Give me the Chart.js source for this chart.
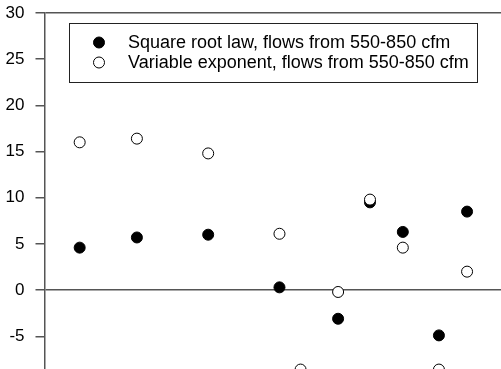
<!DOCTYPE html>
<html>
<head>
<meta charset="utf-8">
<script src="https://cdn.jsdelivr.net/npm/chart.js@4.4.1/dist/chart.umd.min.js"></script>
<style>
  html, body { margin: 0; padding: 0; background: #fff; overflow: hidden; }
  #chart { display: block; }
</style>
</head>
<body>
<canvas id="chart" width="520" height="389"></canvas>
<script>
// test positions (arbitrary x units) and percent differences
const sqrtX = [7.5, 19.7, 34.9, 50.1, 62.6, 69.4, 76.4, 84.1, 90.1];
const sqrtY = [4.6, 5.7, 6.0, 0.3, -3.1, 9.5, 6.3, -4.9, 8.5];
const varX = [7.5, 19.7, 34.9, 50.1, 54.6, 62.6, 69.4, 76.4, 84.1, 90.1];
const varY = [16.0, 16.4, 14.8, 6.1, -8.6, -0.2, 9.8, 4.6, -8.6, 2.0];
const seriesLabels = [
    'Square root law, flows from 550-850 cfm',
    'Variable exponent, flows from 550-850 cfm',
];
const yTicks = [-10, -5, 0, 5, 10, 15, 20, 25, 30];

const FONT = '"Liberation Sans", Arial, sans-serif';
const AXIS = '#555';

const toPoints = (xs, ys) => xs.map((x, i) => ({ x: x, y: ys[i] }));

// legend box drawn inside the plot, like the original
const boxLegend = {
    id: 'boxLegend',
    afterDraw(chart) {
        const ctx = chart.ctx;
        const left = 69.5, top = 23.5, w = 408, h = 59;
        ctx.save();
        ctx.fillStyle = '#fff';
        ctx.fillRect(left, top, w, h);
        ctx.strokeStyle = '#222';
        ctx.lineWidth = 1;
        ctx.strokeRect(left, top, w, h);
        ctx.font = '18px ' + FONT;
        ctx.textBaseline = 'middle';
        ctx.textAlign = 'left';
        chart.data.datasets.forEach((ds, i) => {
            const y = 42.5 + i * 20;
            ctx.beginPath();
            ctx.arc(99, y, ds.pointRadius, 0, Math.PI * 2);
            ctx.fillStyle = ds.backgroundColor;
            ctx.fill();
            ctx.lineWidth = ds.borderWidth;
            ctx.strokeStyle = ds.borderColor;
            ctx.stroke();
            ctx.fillStyle = '#000';
            ctx.fillText(ds.label, 128, y + 1);
        });
        ctx.restore();
    }
};

new Chart(document.getElementById('chart'), {
    type: 'scatter',
    data: {
        datasets: [
            {
                label: seriesLabels[0],
                data: toPoints(sqrtX, sqrtY),
                backgroundColor: '#000',
                borderColor: '#000',
                borderWidth: 1,
                pointRadius: 5.5,
                order: 1,
            },
            {
                label: seriesLabels[1],
                data: toPoints(varX, varY),
                backgroundColor: '#fff',
                borderColor: '#000',
                borderWidth: 1,
                pointRadius: 5.5,
                order: 0,
            },
        ],
    },
    options: {
        responsive: false,
        animation: false,
        layout: { padding: { top: 13, left: 0, right: 0, bottom: 0 } },
        plugins: {
            legend: { display: false },
            tooltip: { enabled: false },
        },
        scales: {
            x: {
                type: 'linear',
                min: 0,
                max: 100,
                display: false,
            },
            y: {
                min: -10,
                max: 30,
                afterBuildTicks: (scale) => {
                    scale.ticks = yTicks.map(v => ({ value: v }));
                },
                afterFit: (scale) => {
                    scale.width = 44.5;
                    scale.paddingTop = 0;
                    scale.paddingBottom = 0;
                },
                ticks: {
                    color: '#000',
                    font: { family: FONT, size: 17 },
                    padding: 11,
                },
                grid: {
                    color: (c) => (c.tick && (c.tick.value === 0 || c.tick.value === 30)) ? AXIS : 'rgba(0,0,0,0)',
                    tickColor: AXIS,
                    tickLength: 9,
                    lineWidth: 1.5,
                },
                border: { color: AXIS, width: 1.5 },
            },
        },
    },
    plugins: [boxLegend],
});
</script>
</body>
</html>
